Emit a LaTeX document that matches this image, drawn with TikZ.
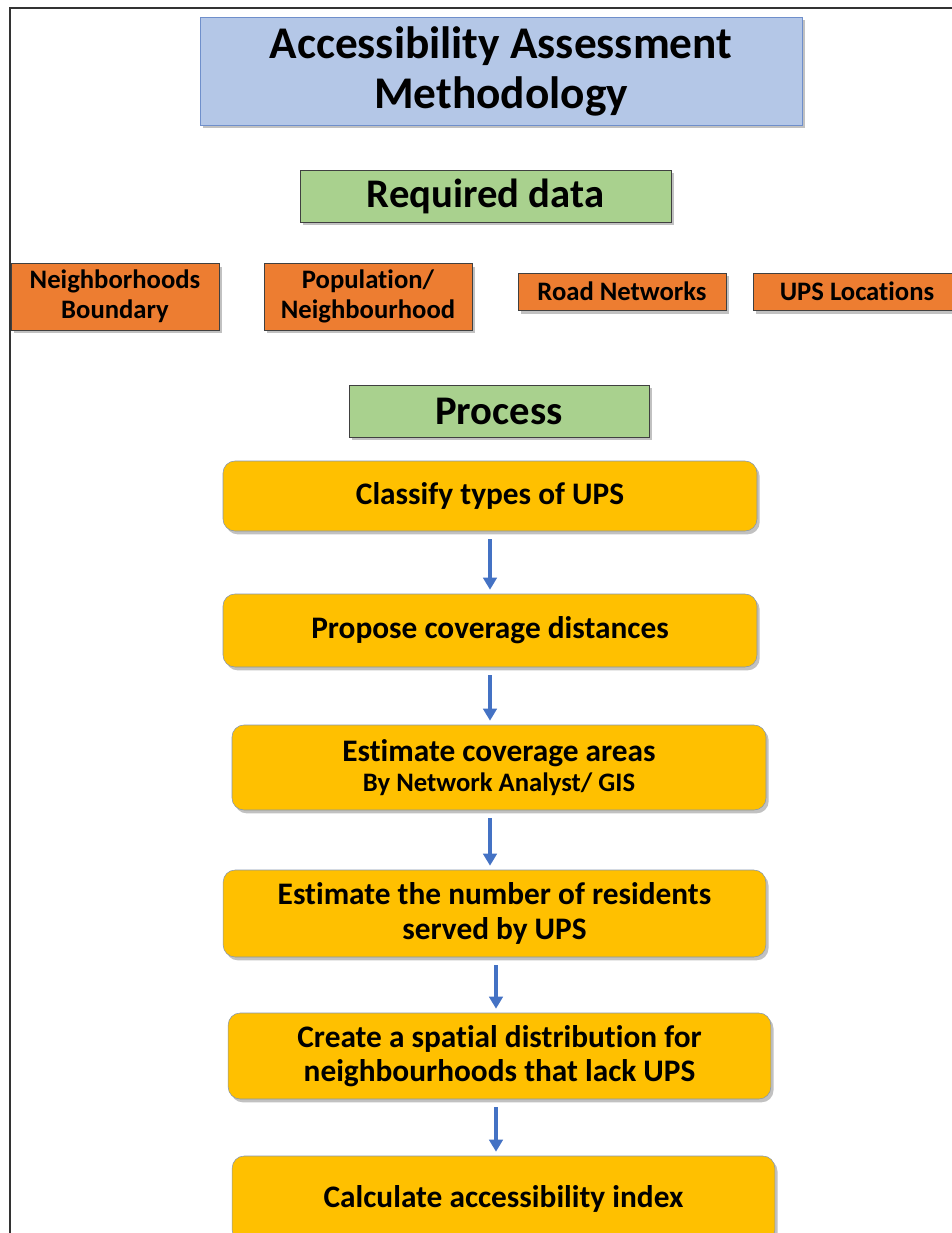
\documentclass[tikz,border=0pt]{standalone}
\usepackage{fontspec}
\setmainfont{Carlito}[Ligatures=NoCommon, Contextuals=NoAlternate]
\usetikzlibrary{shadows,arrows.meta}

\definecolor{titleblue}{HTML}{B4C7E7}
\definecolor{edgeblue}{HTML}{6F8FCB}
\definecolor{datagreen}{HTML}{A9D18E}
\definecolor{dataorange}{HTML}{ED7D31}
\definecolor{stepyellow}{HTML}{FFC000}
\definecolor{stepedge}{HTML}{8496B0}
\definecolor{arrowblue}{HTML}{4472C4}

\tikzset{
  boxshadow/.style={drop shadow={shadow xshift=2pt, shadow yshift=-2.5pt, opacity=0.35, fill=black!70}},
  titlebox/.style={draw=edgeblue, fill=titleblue, boxshadow, inner sep=0pt, align=center,
    minimum width=451.5pt, minimum height=81pt, font=\fontsize{34}{37.5}\selectfont\bfseries},
  headbox/.style={draw=black!75, fill=datagreen, boxshadow, inner sep=0pt,
    minimum width=278pt, minimum height=39pt, font=\fontsize{30.5}{34}\selectfont\bfseries},
  databox/.style={draw=black!75, fill=dataorange, boxshadow, inner sep=0pt, align=center,
    minimum width=156pt, font=\fontsize{20}{22.5}\selectfont\bfseries},
  stepbox/.style={draw=stepedge, fill=stepyellow, boxshadow, rounded corners=9pt, inner sep=0pt,
    align=center, minimum width=407pt, font=\fontsize{23.5}{26}\selectfont\bfseries},
  flow/.style={draw=arrowblue, line width=2.3pt, -{Triangle[length=9pt,width=10pt]},
    shorten <=6pt, shorten >=3pt}
}

\begin{document}
\begin{tikzpicture}[x=0.75pt, y=-0.75pt]
\useasboundingbox (0,0) rectangle (952,1233);

% Rahmen
\draw[line width=1.5pt, black!80] (9.5,1240) -- (9.5,7.5) -- (960,7.5);

% Titel
\node[titlebox] (title) at (501,71) {Accessibility Assessment\\Methodology};

% Daten
\node[headbox] (data) at (485.5,196) {Required data};
\node[databox, minimum height=50pt] (bound) at (115,296.5) {Neighborhoods\\Boundary};
\node[databox, minimum height=50pt] (pop) at (368,296.5) {Population/\\Neighbourhood};
\node[databox, minimum height=28pt] (road) at (622,291.5) {Road Networks};
\node[databox, minimum height=28pt] (ups) at (857,291.5) {UPS Locations};

% Prozess
\node[headbox, minimum width=225pt] (proc) at (499,411) {Process};

\node[stepbox, minimum width=400.5pt, minimum height=52.5pt] (s1) at (490,496) {Classify types of UPS};
\node[stepbox, minimum width=400.5pt, minimum height=54.75pt] (s2) at (490,630.5) {Propose coverage distances};
\node[stepbox, minimum width=400.5pt, minimum height=63.75pt] (s3) at (499,767.5)
  {Estimate coverage areas\\[-3pt]{\fontsize{20}{23}\selectfont By Network Analyst/ GIS}};
\node[stepbox, minimum height=65.25pt] (s4) at (494.5,913.5) {Estimate the number of residents\\served by UPS};
\node[stepbox, minimum height=64.5pt] (s5) at (499.5,1056) {Create a spatial distribution for\\neighbourhoods that lack UPS};
\node[stepbox, minimum height=64.5pt] (s6) at (503.5,1199) {Calculate accessibility index};

% Pfeile
\coordinate (a1) at (490,0);
\coordinate (a2) at (496,0);
\draw[flow] (s1.south -| a1) -- (s2.north -| a1);
\draw[flow] (s2.south -| a1) -- (s3.north -| a1);
\draw[flow] (s3.south -| a1) -- (s4.north -| a1);
\draw[flow] (s4.south -| a2) -- (s5.north -| a2);
\draw[flow] (s5.south -| a2) -- (s6.north -| a2);

\end{tikzpicture}
\end{document}
